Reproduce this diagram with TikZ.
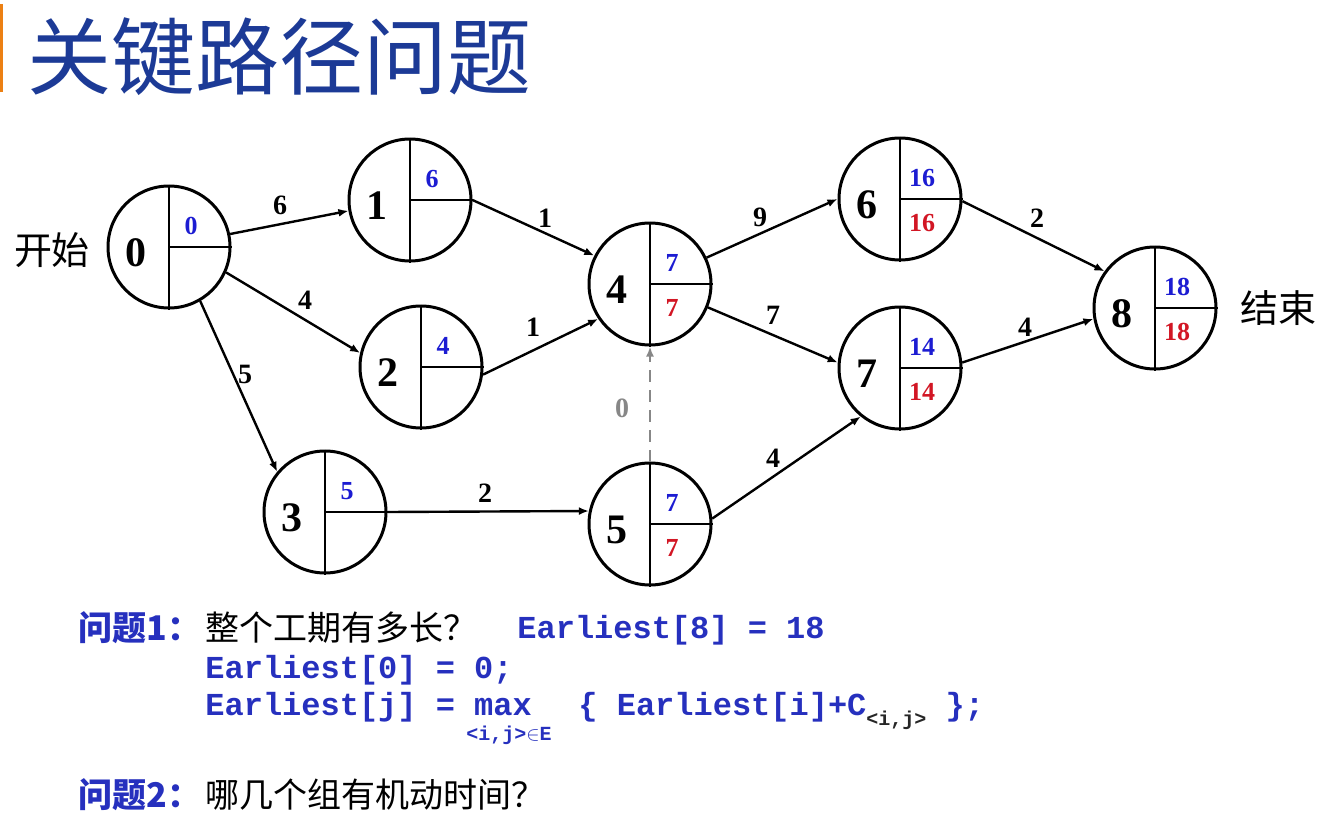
\documentclass[tikz,border=0pt]{standalone}
\usepackage{fontspec}
\setmainfont{Liberation Serif}
\setmonofont{Liberation Mono}
\newfontfamily\cjk{Noto Sans CJK SC}
\usepackage{xcolor}
\usepackage{tikz}
\usetikzlibrary{arrows.meta,calc}

\definecolor{titleblue}{RGB}{28,58,150}
\definecolor{codeblue}{RGB}{38,48,190}
\definecolor{valblue}{RGB}{28,28,210}
\definecolor{valred}{RGB}{210,22,36}
\definecolor{dashgray}{RGB}{135,135,135}

\begin{document}
\begin{tikzpicture}[x=0.5pt, y=-0.5pt,
    ev/.style={circle, draw, line width=1.5pt, minimum size=61pt, inner sep=0pt},
    inner/.style={line width=1.2pt},
    num/.style={font=\fontsize{21}{21}\selectfont\bfseries, inner sep=0pt},
    early/.style={font=\fontsize{13}{13}\selectfont\bfseries, text=valblue, inner sep=0pt},
    late/.style={font=\fontsize{13}{13}\selectfont\bfseries, text=valred, inner sep=0pt},
    edge/.style={line width=1.2pt, -{Latex[length=5pt,width=4pt]}},
    dummy/.style={line width=1.2pt, dashgray, dash pattern=on 6pt off 4pt, -{Latex[length=5pt,width=4pt]}},
    weight/.style={font=\fontsize{14}{14}\selectfont\bfseries, inner sep=0pt},
    side/.style={font=\cjk\fontsize{19}{19}\selectfont, inner sep=0pt},
    cjktext/.style={font=\cjk\fontsize{17}{17}\selectfont, anchor=west, inner sep=0pt},
    cjkblue/.style={font=\cjk\fontsize{17}{17}\selectfont\bfseries, text=codeblue, anchor=west, inner sep=0pt},
    code/.style={font=\ttfamily\fontsize{16}{16}\selectfont\bfseries, text=codeblue, anchor=base west, inner sep=0pt},
    codesub/.style={font=\ttfamily\fontsize{10}{10}\selectfont\bfseries, text=codeblue, inner sep=0pt}]
    \useasboundingbox (0,0) rectangle (1335,830);
    \fill[orange!70!brown] (0,4) rectangle (3,92);

    % Title
    \node[font=\cjk\fontsize{42}{42}\selectfont, text=titleblue, anchor=west, inner sep=0pt] (title) at (27,57) {关键路径问题};

    % Events
    \foreach \n/\x/\y/\e/\l in {0/169/247/0/{}, 1/410/200/6/{}, 2/421/367/4/{},
        3/325/512/5/{}, 4/650/284/7/7, 5/650/524/7/7, 6/900/199/16/16,
        7/900/368/14/14, 8/1155/308/18/18} {
        \node[ev] (n\n) at (\x,\y) {};
        \draw[inner] (n\n.north) -- (n\n.south);
        \draw[inner] (n\n.center) -- (n\n.east);
        \node[num] (k\n) at ($(n\n)+(-33,6)$) {\n};
        \node[early] (e\n) at ($(n\n)+(22,-21)$) {\e};
        \node[late] (l\n) at ($(n\n)+(22,24)$) {\l};
    }

    \node[side] (start) at (52,250) {开始};
    \node[side] (finish) at (1278,308) {结束};

    % Activities
    \draw[edge] (n0.12) -- (n1.190);
    \draw[edge] (n0.-24) -- (n2.167);
    \draw[edge] (n0.-60) -- (n3.140);
    \draw[edge] (n1.0) -- (n4.153);
    \draw[edge] (n2.-7) -- (n4.214);
    \draw[edge] (n3.0) -- (n5.168);
    \draw[dummy] (n5.north) -- (n4.south);
    \draw[edge] (n4.25) -- (n6.180);
    \draw[edge] (n4.-22) -- (n7.175);
    \draw[edge] (n5.5) -- (n7.231);
    \draw[edge] (n6.-2) -- (n8.144);
    \draw[edge] (n7.5) -- (n8.190);

    % Weights
    \node[weight] (w01) at (280,205) {6};
    \node[weight] (w02) at (305,300) {4};
    \node[weight] (w03) at (245,374) {5};
    \node[weight] (w14) at (545,218) {1};
    \node[weight] (w24) at (533,327) {1};
    \node[weight] (w35) at (485,493) {2};
    \node[weight, text=dashgray] (w54) at (622,408) {0};
    \node[weight] (w46) at (760,217) {9};
    \node[weight] (w47) at (773,315) {7};
    \node[weight] (w57) at (773,458) {4};
    \node[weight] (w68) at (1037,218) {2};
    \node[weight] (w78) at (1025,327) {4};

    % Questions
    \node[cjkblue] (q1) at (78,628) {问题1：};
    \node[cjktext] (q1t) at (205,628) {整个工期有多长？};
    \node[code] (c1) at (517,638) {Earliest[8] = 18};
    \node[code] (c2) at (205,678) {Earliest[0] = 0;};
    \node[code] (c3) at (205,715) {Earliest[j] = max};
    \node[code] (c4) at (578,715) {\{ Earliest[i]+C\raisebox{-5pt}{\fontsize{10}{10}\selectfont\textcolor{black!85}{<i,j>}} \};};
    \node[codesub] (c5) at (509,735) {<i,j>$\in$E};
    \node[cjkblue] (q2) at (78,795) {问题2：};
    \node[cjktext] (q2t) at (205,795) {哪几个组有机动时间？};
\end{tikzpicture}
\end{document}
